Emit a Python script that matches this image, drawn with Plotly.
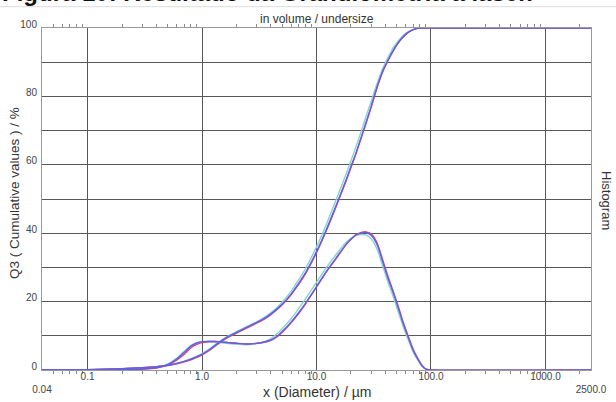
import plotly.graph_objects as go

# ---- data ----
diameter = [0.04, 0.1, 0.2, 0.3, 0.4, 0.5, 0.6, 0.7, 0.8, 0.9, 1.0, 1.2, 1.4, 1.7, 2.0, 2.5,
            3.0, 3.5, 4.0, 4.5, 5.0, 6.0, 7.0, 8.0, 10, 12, 15, 18, 20, 22, 25, 27, 30, 34,
            38, 42, 47, 52, 57, 63, 70, 76, 82, 88, 94, 100, 2500]

cum_blue = [0, 0.1, 0.4, 0.7, 1.0, 1.4, 1.9, 2.5, 3.2, 3.9, 4.6, 6.3, 8.0, 9.8, 11.0, 12.6,
            13.9, 15.1, 16.4, 17.8, 19.2, 22.2, 25.4, 28.4, 34.6, 40.5, 48.5, 55.3, 59.5, 63.2,
            68.8, 72.2, 77.0, 83.0, 87.5, 90.5, 93.5, 95.8, 97.4, 98.7, 99.5, 99.9, 100, 100,
            100, 100, 100]
cum_red = [0, 0.1, 0.4, 0.7, 1.0, 1.3, 1.8, 2.4, 3.0, 3.7, 4.4, 6.1, 7.8, 9.6, 10.8, 12.4,
           13.7, 14.9, 16.2, 17.6, 19.0, 22.0, 25.1, 28.1, 34.3, 40.2, 48.2, 55.0, 59.2, 63.0,
           68.6, 72.0, 76.8, 82.8, 87.3, 90.4, 93.4, 95.7, 97.3, 98.6, 99.5, 99.9, 100, 100,
           100, 100, 100]
cum_cyan = [0, 0.1, 0.4, 0.7, 1.0, 1.4, 1.9, 2.6, 3.3, 4.0, 4.8, 6.5, 8.2, 10.0, 11.2, 12.8,
            14.1, 15.4, 16.8, 18.2, 19.8, 23.0, 26.4, 29.6, 36.0, 42.0, 50.2, 57.0, 61.2, 65.0,
            70.5, 74.0, 78.5, 84.0, 88.3, 91.3, 94.3, 96.3, 97.8, 98.9, 99.6, 99.9, 100, 100,
            100, 100, 100]

hist_blue = [0, 0, 0.1, 0.3, 0.7, 1.6, 3.2, 5.2, 7.0, 7.9, 8.3, 8.4, 8.3, 8.0, 7.8, 7.6,
             7.8, 8.2, 8.8, 9.8, 11.2, 14.0, 16.8, 19.5, 24.4, 28.5, 33.0, 36.6, 38.2, 39.4,
             40.1, 40.2, 39.4, 36.5, 31.5, 27.0, 22.4, 18.0, 13.8, 9.8, 5.8, 3.5, 1.6, 0.5,
             0.1, 0, 0]
hist_red = [0, 0, 0.1, 0.3, 0.6, 1.4, 2.9, 4.6, 6.5, 7.5, 8.0, 8.3, 8.3, 8.0, 7.8, 7.6,
            7.8, 8.1, 8.7, 9.7, 11.0, 13.8, 16.6, 19.3, 24.2, 28.3, 32.8, 36.5, 38.2, 39.5,
            40.3, 40.4, 39.8, 37.0, 32.0, 27.5, 22.8, 18.4, 14.1, 10.0, 6.0, 3.6, 1.7, 0.5,
            0.1, 0, 0]
hist_cyan = [0, 0, 0.1, 0.3, 0.7, 1.7, 3.4, 5.5, 7.2, 8.0, 8.2, 8.2, 8.0, 7.7, 7.5, 7.4,
             7.7, 8.3, 9.2, 10.5, 12.0, 15.0, 18.0, 20.8, 25.6, 29.6, 34.0, 37.2, 38.5, 39.3,
             39.6, 39.5, 38.4, 35.2, 30.2, 25.8, 21.2, 16.8, 12.8, 9.0, 5.2, 3.1, 1.4, 0.4,
             0.1, 0, 0]

series = [("cyan", cum_cyan, hist_cyan, "#86d3cf"),
          ("red", cum_red, hist_red, "#e2406e"),
          ("blue", cum_blue, hist_blue, "#6060e6")]

x_tickvals = [0.04, 0.1, 1, 10, 100, 1000, 2500]
x_ticktext = ["<br>0.04", "0.1", "1.0", "10.0", "100.0", "1000.0", "<br>2500.0"]
y_tickvals = [0, 20, 40, 60, 80, 100]
y_ticktext = ["0", "20", "40", "60", "80", "100"]
minor_vals = [m * 10.0 ** e for e in range(-2, 4) for m in range(2, 10)]
minor_vals = [v for v in minor_vals if 0.04 < v < 2500 and abs(v - 0.04) > 1e-9]

# ---- figure ----
fig = go.Figure()
for name, cum, hist, col in series:
    fig.add_trace(go.Scatter(x=diameter, y=cum, mode="lines", name=name + " Q3",
                             line=dict(color=col, width=1.4, shape="spline", smoothing=0.6)))
    fig.add_trace(go.Scatter(x=diameter, y=hist, mode="lines", name=name + " q3",
                             line=dict(color=col, width=1.4, shape="spline", smoothing=0.6)))

FONT = "Liberation Sans, Arial, sans-serif"
L, R, T, B = 42, 25, 28, 32
W, H = 616, 402
PW, PH = W - L - R, H - T - B


def px(xp):
    return (xp - L) / PW


def py(yp):
    return (H - B - yp) / PH


GRID = "#585858"
fig.update_layout(
    width=W, height=H,
    margin=dict(l=L, r=R, t=T, b=B, pad=0, autoexpand=False),
    paper_bgcolor="white", plot_bgcolor="white",
    showlegend=False,
    font=dict(family=FONT, size=10, color="#444"),
    xaxis=dict(type="log", range=[-1.39794, 3.39794], automargin=False,
               tickvals=x_tickvals, ticktext=x_ticktext,
               showgrid=True, gridcolor=GRID, gridwidth=1,
               showline=True, linecolor="#999999", linewidth=1, mirror="ticks",
               ticks="", tickfont=dict(size=10, color="#444"),
               ticklabelstandoff=-3,
               minor=dict(tickvals=minor_vals, ticks="outside", ticklen=3,
                          tickcolor="#8a8a8a", tickwidth=1, showgrid=False),
               zeroline=False),
    yaxis=dict(range=[0, 100], tickvals=y_tickvals, ticktext=y_ticktext, automargin=False,
               showgrid=True, gridcolor=GRID, gridwidth=1,
               showline=True, linecolor="#999999", linewidth=1, mirror=True,
               ticks="", tickfont=dict(size=10, color="#444"),
               ticklabelstandoff=2, ticklabelshift=-4,
               minor=dict(dtick=10, showgrid=True, gridcolor=GRID, gridwidth=1),
               zeroline=False),
)

annotations = [
    dict(text="Figura 10: Resultado da Granulometria a laser.", x=px(0), y=py(-7.5),
         xanchor="left", yanchor="middle", showarrow=False,
         font=dict(family=FONT, size=24, color="#111", weight="bold")),
    dict(text="in volume / undersize", x=px(316.5), y=py(19), xanchor="center",
         yanchor="middle", showarrow=False, font=dict(family=FONT, size=12, color="#333")),
    dict(text="x (Diameter) / µm", x=px(316.5), y=py(392), xanchor="center",
         yanchor="middle", showarrow=False, font=dict(family=FONT, size=14, color="#333")),
    dict(text="Q3 ( Cumulative values ) / %", x=px(15), y=py(193), xanchor="center",
         yanchor="middle", textangle=-90, showarrow=False,
         font=dict(family=FONT, size=13.5, color="#333")),
    dict(text="Histogram", x=px(607), y=py(200), xanchor="center",
         yanchor="middle", textangle=90, showarrow=False,
         font=dict(family=FONT, size=13, color="#333")),
]
for a in annotations:
    a.update(xref="paper", yref="paper")
fig.update_layout(annotations=annotations)

fig.add_shape(type="line", xref="paper", yref="paper", x0=px(0), x1=px(616),
              y0=py(6.7), y1=py(6.7), line=dict(color="#dddddd", width=1), layer="below")

fig.write_html("out.html")
